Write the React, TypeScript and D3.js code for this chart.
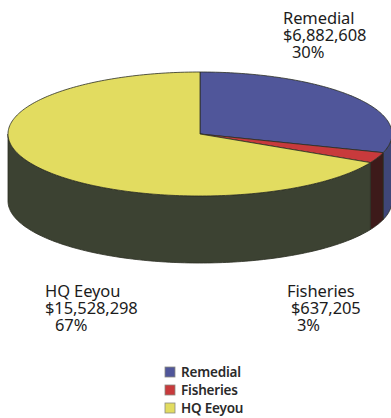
import React from "react";
import * as d3 from "d3";

const categories = ["Remedial", "Fisheries", "HQ Eeyou"];
const amounts = [6882608, 637205, 15528298];
const percentLabels = ["30%", "3%", "67%"];
const topColors = ["#50569a", "#c83a3c", "#e2dc60"];
const wallColors = ["#3f4678", "#3d1a1a", "#3c4232"];
const calloutOrigins = [
  { x: 283, y: 24, moneyDx: 0, pctDx: 9 },
  { x: 287, y: 297, moneyDx: 4, pctDx: 10 },
  { x: 45, y: 297, moneyDx: 0, pctDx: 10 },
];

const width = 391;
const height = 418;
const cx = 200;
const cy = 134;
const rx = 192;
const ry = 62;
const depth = 67;
const fontFamily = "'Noto Sans', sans-serif";

// Project a pie angle (0 at twelve o'clock, clockwise) onto the tilted disc.
const px = (a: number) => cx + rx * Math.sin(a);
const py = (a: number) => cy - ry * Math.cos(a);

const slices = d3.pie<number>().sort(null)(amounts);
const money = d3.format("$,");

function samples(start: number, end: number) {
  const n = Math.max(2, Math.ceil((end - start) / 0.02));
  return d3.range(n + 1).map((i) => start + ((end - start) * i) / n);
}

const line = d3.line<[number, number]>();

function topPath(start: number, end: number) {
  const rim = samples(start, end).map((a): [number, number] => [px(a), py(a)]);
  return line([[cx, cy], ...rim]) + "Z";
}

// Only the near half of the rim (angles between 90° and 270°) shows a wall.
function wallPath(start: number, end: number) {
  const from = Math.max(start, Math.PI / 2);
  const to = Math.min(end, (3 * Math.PI) / 2);
  if (to <= from) return null;
  const upper = samples(from, to).map((a): [number, number] => [px(a), py(a)]);
  const lower = upper
    .slice()
    .reverse()
    .map(([x, y]): [number, number] => [x, y + depth]);
  return line([...upper, ...lower]) + "Z";
}

export default function App() {
  return (
    <svg
      width={width}
      height={height}
      viewBox={`0 0 ${width} ${height}`}
      style={{ position: "absolute", left: 0, top: 0, background: "#fff" }}
      fontFamily={fontFamily}
    >
      <g stroke="#2b2d22" strokeWidth={0.8} strokeLinejoin="round">
        {slices.map((s, i) => {
          const d = wallPath(s.startAngle, s.endAngle);
          return d ? <path key={i} d={d} fill={wallColors[i]} /> : null;
        })}
        {slices.map((s, i) => (
          <path key={i} d={topPath(s.startAngle, s.endAngle)} fill={topColors[i]} />
        ))}
      </g>

      {categories.map((name, i) => {
        const o = calloutOrigins[i];
        return (
          <text key={name} fontSize={16.5} fill="#1c1c1c" letterSpacing={-0.1}>
            <tspan x={o.x} y={o.y}>{name}</tspan>
            <tspan x={o.x + o.moneyDx} y={o.y + 17}>{money(amounts[i])}</tspan>
            <tspan x={o.x + o.pctDx} y={o.y + 34}>{percentLabels[i]}</tspan>
          </text>
        );
      })}

      {categories.map((name, i) => {
        const rowY = 377 + i * 18;
        return (
          <g key={name}>
            <rect x={165} y={rowY - 10} width={10} height={10} fill={topColors[i]} stroke="#8a8a80" strokeWidth={0.8} />
            <text x={181} y={rowY} fontSize={13.5} fontWeight={600} fill="#2a2a2a" letterSpacing={-0.2}>
              {name}
            </text>
          </g>
        );
      })}
    </svg>
  );
}
